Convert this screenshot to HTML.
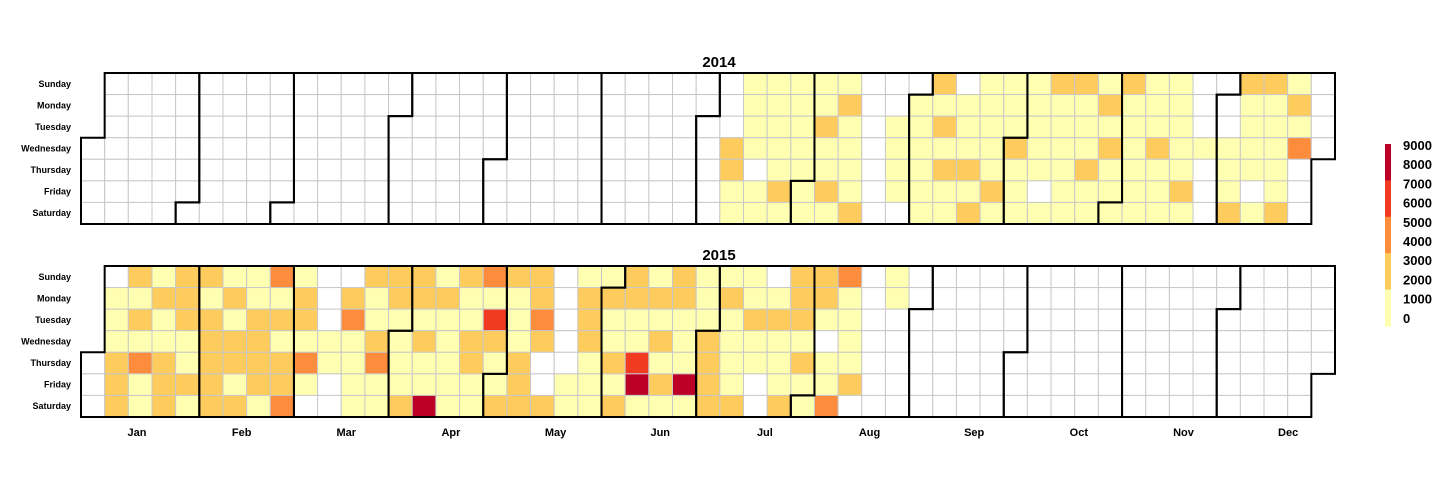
<!DOCTYPE html>
<html><head><meta charset="utf-8"><style>
body{margin:0;background:#fff;}
svg text{font-family:"Liberation Sans Narrow","Liberation Sans",sans-serif;font-weight:bold;fill:#000;}
</style></head><body>
<svg id="chart" width="1439" height="481"></svg>
<script>
const Y=1000,O=3000,L2=5000,L3=7000,L4=8500,N=null;
const years=[2014,2015];
const firstWeek2014=26;
const weeks2014=[
[N,N,N,N,N,N,N],[N,N,N,O,O,Y,Y],[Y,Y,Y,Y,N,Y,Y],[Y,Y,Y,Y,Y,O,Y],[Y,Y,Y,Y,Y,Y,Y],
[Y,Y,O,Y,Y,O,Y],[Y,O,Y,Y,Y,Y,O],[N,N,N,N,N,N,N],[N,N,Y,Y,Y,Y,N],[N,Y,Y,Y,Y,Y,Y],
[O,Y,O,Y,O,Y,Y],[N,Y,Y,Y,O,Y,O],[Y,Y,Y,Y,Y,O,Y],[Y,Y,Y,O,Y,Y,Y],[Y,Y,Y,Y,Y,N,Y],
[O,Y,Y,Y,Y,Y,Y],[O,Y,Y,Y,O,Y,Y],[Y,O,Y,O,Y,Y,Y],[O,Y,Y,Y,Y,Y,Y],[Y,Y,Y,O,Y,Y,Y],
[Y,Y,Y,Y,Y,O,Y],[N,N,N,Y,N,N,N],[N,N,N,Y,Y,Y,O],[O,Y,Y,Y,Y,N,Y],[O,Y,Y,Y,Y,Y,O],
[Y,O,Y,L2,N,N,N],[N,N,N,N,N,N,N]];
const firstWeek2015=0;
const weeks2015=[
[N,N,N,N,N,N,N],[N,Y,Y,Y,O,O,O],[O,Y,O,Y,L2,Y,Y],[Y,O,Y,Y,O,O,O],[O,O,O,Y,Y,O,Y],
[O,Y,O,O,O,O,O],[Y,O,Y,O,O,Y,O],[Y,Y,O,O,O,O,Y],[L2,Y,O,Y,O,O,L2],[Y,O,O,Y,L2,Y,N],
[N,N,N,Y,Y,N,N],[N,O,L2,Y,Y,Y,Y],[O,Y,Y,O,L2,Y,Y],[O,O,Y,Y,Y,Y,O],[O,O,Y,O,Y,Y,L4],
[Y,O,Y,Y,Y,Y,Y],[O,Y,Y,O,O,Y,Y],[L2,Y,L3,O,Y,Y,O],[O,Y,Y,Y,O,O,O],[O,O,L2,O,N,N,O],
[N,N,N,N,N,Y,Y],[Y,O,O,O,Y,Y,Y],[Y,O,Y,Y,O,Y,O],[O,O,Y,Y,L3,L4,Y],[Y,O,Y,O,Y,O,Y],
[O,O,Y,Y,Y,L4,Y],[Y,Y,Y,O,O,O,O],[Y,O,Y,Y,Y,Y,O],[Y,Y,O,Y,Y,N,N],[N,Y,O,Y,Y,Y,O],
[O,O,O,Y,O,Y,Y],[O,O,Y,N,Y,Y,L2],[L2,Y,Y,Y,Y,O,N],[N,N,N,N,N,N,N],[Y,Y,N,N,N,N,N]];
const dayLabels=["Sunday","Monday","Tuesday","Wednesday","Thursday","Friday","Saturday"];
const monthLabels=["Jan","Feb","Mar","Apr","May","Jun","Jul","Aug","Sep","Oct","Nov","Dec"];
const legendTicks=[9000,8000,7000,6000,5000,4000,3000,2000,1000,0];
const thresholds=[2000,4000,6000,8000];
const colors=["#ffffb2","#fecc5c","#fd8d3c","#f03b20","#bd0026"];

const NS="http://www.w3.org/2000/svg";
const svg=document.getElementById('chart');
function mk(t,a,p){const e=document.createElementNS(NS,t);for(const k in a)e.setAttribute(k,a[k]);(p||svg).appendChild(e);return e;}
const left=81,cw=(1335-81)/53,ch=151/7,tops=[73,266];
function color(v){let i=0;while(i<thresholds.length&&v>=thresholds[i])i++;return colors[i];}
function dayIdx(d,y){return Math.round((Date.UTC(y,d.m,d.d)-Date.UTC(y,0,1))/864e5);}

years.forEach((yr,yi)=>{
  const top=tops[yi];
  const g=mk('g',{transform:`translate(${left},${top})`});
  
  
  const t=mk('text',{x:719-left,y:-6,'text-anchor':'middle','font-size':15});
  t.textContent=yr;
  
  
  g.appendChild(t);
  dayLabels.forEach((dl,i)=>{
    const l=mk('text',{x:71-left,y:(i+0.5)*ch+3,'text-anchor':'end','font-size':9},g);
    l.textContent=dl;
    
    
  });
  const jan1=new Date(Date.UTC(yr,0,1)).getUTCDay();
  const weeks=yi===0?weeks2014:weeks2015, fw=yi===0?firstWeek2014:firstWeek2015;
  const ndays=(yr%4===0)?366:365;
  const colOf=i=>Math.floor((i+jan1)/7), rowOf=i=>(i+jan1)%7;
  for(let i=0;i<ndays;i++){
    const c=colOf(i),r=rowOf(i);
    const w=weeks[c-fw];const v=w?w[r]:null;
    const rc=mk('rect',{x:c*cw,y:r*ch,width:cw,height:ch,fill:v==null?'#fff':color(v),stroke:'#c8c8c8','stroke-width':1},g);
    
    
  }
  for(let m=0;m<12;m++){
    const a=dayIdx({m:m,d:1},yr), b=dayIdx({m:m+1,d:0},yr);
    const w0=colOf(a),d0=rowOf(a),w1=colOf(b),d1=rowOf(b);
    const p=mk('path',{d:`M${(w0+1)*cw},${d0*ch}H${w0*cw}V${7*ch}H${w1*cw}V${(d1+1)*ch}H${(w1+1)*cw}V0H${(w0+1)*cw}Z`,fill:'none',stroke:'#000','stroke-width':2},g);
    
    
  }
});
monthLabels.forEach((m,i)=>{
  const t=mk('text',{x:137+i*104.65,y:436,'text-anchor':'middle','font-size':11});
  t.textContent=m;
  
  
});
const lg=mk('g',{});


const segH=(326-144)/5;
colors.slice().reverse().forEach((c,i)=>{
  const r=mk('rect',{x:1385,y:144+i*segH,width:6,height:segH+0.5,fill:c},lg);
  
  
});
legendTicks.forEach((v,i)=>{
  const t=mk('text',{x:1403,y:150+i*19.2,'font-size':13},lg);
  t.textContent=v;
  
  
});
</script>
</body></html>
